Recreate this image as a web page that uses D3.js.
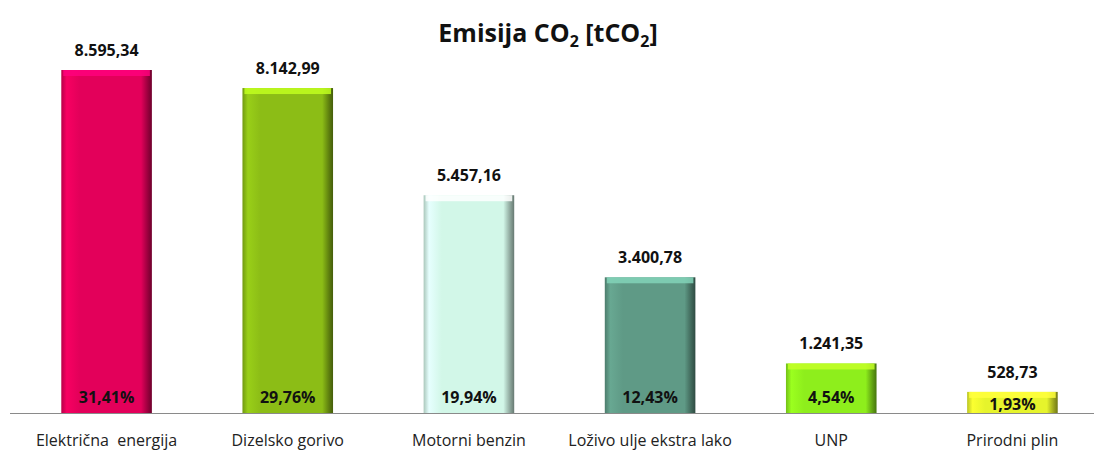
<!DOCTYPE html>
<html>
<head>
<meta charset="utf-8">
<script src="https://cdn.jsdelivr.net/npm/d3@7"></script>
<style>
  body { margin: 0; background: #fff; }
  text { font-family: "Open Sans", "Noto Sans", sans-serif; }
</style>
</head>
<body>
<script>
var w = 1094
var h = 453

// data
var categories = ["Električna  energija", "Dizelsko gorivo", "Motorni benzin", "Loživo ulje ekstra lako", "UNP", "Prirodni plin"]
var values = [8595.34, 8142.99, 5457.16, 3400.78, 1241.35, 528.73]
var valueLabels = ["8.595,34", "8.142,99", "5.457,16", "3.400,78", "1.241,35", "528,73"]
var shareLabels = ["31,41%", "29,76%", "19,94%", "12,43%", "4,54%", "1,93%"]
var colors = ["#e3005a", "#8cbd16", "#d2f7e8", "#5f9a86", "#8eee1c", "#e6f42c"]

var baseY = 413

var x = d3.scaleBand()
    .domain(categories)
    .range([16, 1103])
    .paddingInner(0.5)
    .paddingOuter(0.25)

var y = d3.scaleLinear()
    .domain([0, 8595.34])
    .range([baseY, 70])

var svg = d3.select("body")
    .append("svg")
    .attr("width", w)
    .attr("height", h)

var defs = svg.append("defs")

// side shading for each bar
colors.forEach(function (c, i) {
    var g = defs.append("linearGradient")
        .attr("id", "grad" + i)
        .attr("x1", "0%").attr("x2", "100%")
    var base = d3.color(c)
    g.append("stop").attr("offset", "0%").attr("stop-color", base.darker(0.6))
    g.append("stop").attr("offset", "6%").attr("stop-color", base.brighter(0.25))
    g.append("stop").attr("offset", "20%").attr("stop-color", base)
    g.append("stop").attr("offset", "88%").attr("stop-color", base)
    g.append("stop").attr("offset", "96%").attr("stop-color", base.darker(1.2))
    g.append("stop").attr("offset", "100%").attr("stop-color", base.darker(2))
})

// title
var title = svg.append("text")
    .attr("x", 548)
    .attr("y", 42)
    .attr("text-anchor", "middle")
    .style("font-size", "25px")
    .style("font-weight", "bold")
    .attr("fill", "#111")
title.append("tspan").text("Emisija CO")
title.append("tspan").text("2").attr("dy", 5).style("font-size", "16px")
title.append("tspan").text(" [tCO").attr("dy", -5)
title.append("tspan").text("2").attr("dy", 5).style("font-size", "16px")
title.append("tspan").text("]").attr("dy", -5)

var bars = svg.selectAll("g.bar")
    .data(values)
    .enter()
    .append("g")
    .attr("class", "bar")

bars.append("rect")
    .attr("x", function (d, i) { return x(categories[i]) })
    .attr("y", function (d) { return y(d) })
    .attr("width", x.bandwidth())
    .attr("height", function (d) { return baseY - y(d) })
    .attr("fill", function (d, i) { return "url(#grad" + i + ")" })

// top bevel
bars.append("rect")
    .attr("x", function (d, i) { return x(categories[i]) + 2 })
    .attr("y", function (d) { return y(d) })
    .attr("width", x.bandwidth() - 4)
    .attr("height", 6)
    .attr("fill", function (d, i) { return d3.color(colors[i]).brighter(0.9) })
    .attr("opacity", 0.85)

// axis
svg.append("line")
    .attr("x1", 10)
    .attr("x2", w)
    .attr("y1", baseY + 0.5)
    .attr("y2", baseY + 0.5)
    .attr("stroke", "#8a8a8a")
    .attr("stroke-width", 1.2)

svg.selectAll("text.value")
    .data(values)
    .enter()
    .append("text")
    .attr("class", "value")
    .attr("x", function (d, i) { return x(categories[i]) + x.bandwidth() / 2 })
    .attr("y", function (d) { return y(d) - 14 })
    .attr("text-anchor", "middle")
    .style("font-size", "16px")
    .style("font-weight", "bold")
    .attr("fill", "#111")
    .text(function (d, i) { return valueLabels[i] })

svg.selectAll("text.share")
    .data(values)
    .enter()
    .append("text")
    .attr("class", "share")
    .attr("x", function (d, i) { return x(categories[i]) + x.bandwidth() / 2 })
    .attr("y", function (d) { return Math.max(403, y(d) + 18) })
    .attr("text-anchor", "middle")
    .style("font-size", "16px")
    .style("font-weight", "bold")
    .attr("fill", "#111")
    .text(function (d, i) { return shareLabels[i] })

svg.selectAll("text.cat")
    .data(categories)
    .enter()
    .append("text")
    .attr("class", "cat")
    .attr("x", function (d) { return x(d) + x.bandwidth() / 2 })
    .attr("y", 446)
    .attr("text-anchor", "middle")
    .style("font-size", "16px")
    .attr("fill", "#222")
    .style("white-space", "pre")
    .text(function (d) { return d })
</script>
</body>
</html>
